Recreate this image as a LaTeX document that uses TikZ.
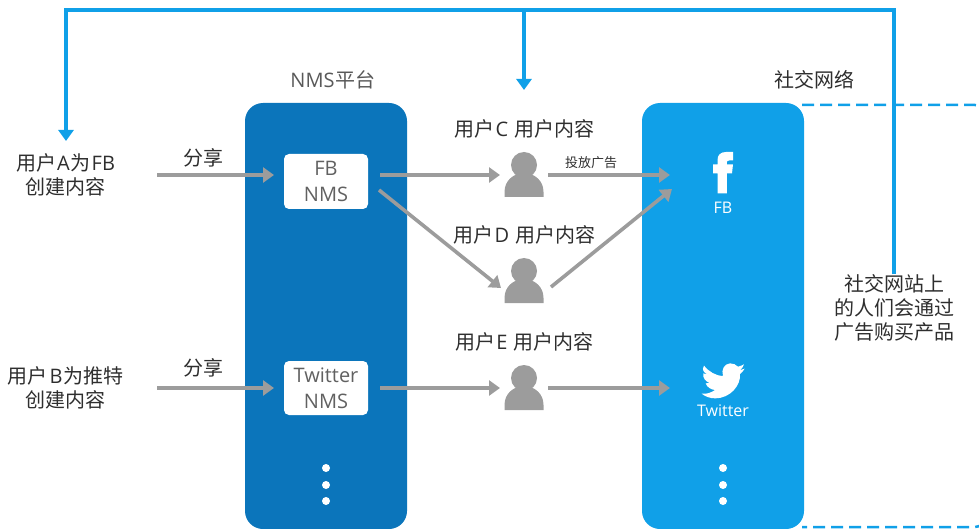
\documentclass[tikz,border=0pt]{standalone}
\usepackage{fontspec}
\setmainfont{Open Sans}
\newfontfamily\cjkfont{Noto Sans CJK SC}
\newcommand{\zh}[1]{{\cjkfont #1}}
\usetikzlibrary{arrows.meta}
\definecolor{nmsblue}{HTML}{0B75BB}
\definecolor{netblue}{HTML}{10A0E8}
\definecolor{arrowgray}{HTML}{9C9C9C}
\definecolor{textgray}{HTML}{2E2E2E}
\tikzset{
  flow/.style={draw=arrowgray,line width=3.6pt,-{Triangle[length=11pt,width=15pt]}},
  loopline/.style={draw=netblue,line width=3.8pt},
  looparrow/.style={loopline,-{Triangle[length=11pt,width=15pt]}},
  dashline/.style={draw=netblue,line width=2.5pt,dash pattern=on 12pt off 6pt,rounded corners=10pt},
  panel/.style={rounded corners=18pt,minimum width=162pt,minimum height=426pt,outer sep=0pt,inner sep=0pt},
  appbox/.style={fill=white,rounded corners=5pt,minimum width=84pt,outer sep=0pt,align=center,text=black!62,font=\fontsize{20}{26}\selectfont},
  usernode/.style={minimum width=48pt,minimum height=48pt,outer sep=0pt,inner sep=0pt},
  lognode/.style={minimum width=106pt,minimum height=46pt,outer sep=0pt,inner sep=0pt},
  label/.style={text=textgray,align=center,inner sep=0pt,font=\fontsize{20}{24}\selectfont},
  applabel/.style={text=white,inner sep=0pt,font=\fontsize{16}{18}\selectfont},
  dot/.style={circle,fill=white,minimum size=8pt,inner sep=0pt},
  usericon/.pic={
    \fill[arrowgray] (0,-10) circle (13);
    \fill[arrowgray] (-19.5,22) -- (-19.5,17) .. controls (-19.5,5) and (-10,0) .. (-6,-1) .. controls (-3,2) and (3,2) .. (6,-1) .. controls (10,0) and (19.5,5) .. (19.5,17) -- (19.5,22) -- cycle;
  }
}
\begin{document}
\begin{tikzpicture}[x=1pt,y=-1pt]
\useasboundingbox (0,0) rectangle (979,529);

\coordinate (dashtop) at (802,105);
\coordinate (dashbot) at (802,527);
\draw[dashline] (dashtop) -- (985,105) -- (985,527) -- (dashbot);

\node[panel,fill=nmsblue] (nmspanel) at (326,316) {};
\node[panel,fill=netblue] (netpanel) at (723,316) {};

\node[label,text=black!65] at (333,80) {NMS\kern1pt\zh{平台}};
\node[label] at (814,80) {\zh{社交网络}};
\node[label] (usera) at (65.5,175) {\zh{用户}\kern1pt A\kern1pt\zh{为}\kern1pt FB\\\zh{创建内容}};
\node[label] (userb) at (65.5,388) {\zh{用户}\kern2pt B\kern1pt\zh{为推特}\\\zh{创建内容}};
\node[label] (buylabel) at (894,308) {\zh{社交网站上}\\\zh{的人们会通过}\\\zh{广告购买产品}};

\node[label] at (203,158) {\zh{分享}};
\node[label] at (203,368) {\zh{分享}};
\node[label] at (524.5,129) {\zh{用户}\kern1pt C\kern1pt\ \zh{用户内容}};
\node[label] at (524.5,235) {\zh{用户}\kern1pt D\kern1pt\ \zh{用户内容}};
\node[label] at (524.5,342) {\zh{用户}\kern1pt E\kern1pt\ \zh{用户内容}};
\node[text=textgray,inner sep=0pt,font=\fontsize{13}{15}\selectfont] at (591,163) {\zh{投放广告}};

\node[appbox,minimum height=55pt] (fbnms) at (326,181.5) {\raisebox{-2pt}{FB}\\\raisebox{-2pt}{NMS}};
\node[appbox,minimum height=54pt] (twnms) at (326,388) {\raisebox{-2pt}{Twitter}\\\raisebox{-2pt}{NMS}};

\node[usernode] (userc) at (524,175) {};
\node[usernode] (userd) at (524,281) {};
\node[usernode] (usere) at (524,388) {};
\pic at (userc) {usericon};
\pic at (userd) {usericon};
\pic at (usere) {usericon};

\node[lognode] (fblogo) at (723,175) {};
\node[lognode] (twlogo) at (723,388) {};
\node[applabel] at (723,208) {FB};
\node[applabel] at (723,411) {Twitter};

\fill[white] (717.5,193.3) -- (717.5,173.3) -- (713,173.3) -- (713,164.3) -- (717.5,164.3) -- (717.5,160) .. controls (717.5,155) and (720.5,152) .. (726,152) -- (733,152) -- (733,160.5) -- (729,160.5) .. controls (727.5,160.5) and (726.8,161.2) .. (726.8,162.8) -- (726.8,164.3) -- (733,164.3) -- (732,173.3) -- (726.8,173.3) -- (726.8,193.3) -- cycle;

\begin{scope}[shift={(640,340)},x=0.3333pt,y=-0.3333pt]
\fill[white] (270,70) .. controls (280,70) and (288,74) .. (294,80) .. controls (300,79) and (306,76) .. (312,73) .. controls (310,81) and (305,87) .. (299,91) .. controls (304,90) and (309,89) .. (314,86) .. controls (310,93) and (305,98) .. (300,102) .. controls (303,135) and (272,175) .. (225,175) .. controls (210,175) and (196,170) .. (185,161) .. controls (199,163) and (214,158) .. (225,150) .. controls (212,149) and (201,141) .. (197,130) .. controls (201,131) and (205,130) .. (209,129) .. controls (197,125) and (187,113) .. (190,100) .. controls (194,103) and (198,104) .. (203,104) .. controls (190,96) and (185,90) .. (192,77) .. controls (207,95) and (226,107) .. (249,108) .. controls (243,88) and (253,72) .. (270,70) -- cycle;
\end{scope}

\node[dot] at (326,468) {};
\node[dot] at (326,485) {};
\node[dot] at (326,501) {};
\node[dot] at (723,468) {};
\node[dot] at (723,485) {};
\node[dot] at (723,501) {};

\coordinate (sharea) at (157,175);
\coordinate (shareb) at (157,388);
\draw[flow,shorten >=10pt] (sharea) -- (fbnms.west |- sharea);
\draw[flow,shorten >=10pt] (shareb) -- (twnms.west);

\coordinate (fbout) at (379,190);
\coordinate (userdin) at (501,288);
\coordinate (userdout) at (551,287);
\coordinate (fbin) at (672,189);
\draw[flow,shorten <=12pt] (fbnms.east |- userc) -- (userc.west);
\draw[flow] (fbout) -- (userdin);
\draw[flow] (userdout) -- (fbin);
\draw[flow] (userc.east) -- (fblogo.west);
\draw[flow,shorten <=12pt] (twnms.east) -- (usere.west);
\draw[flow] (usere.east) -- (twlogo.west);

\coordinate (loopa) at (66,141);
\coordinate (loopc) at (524,90);
\draw[looparrow] (buylabel.north) -- (894,10) -- (66,10) -- (loopa);
\draw[looparrow] (524,10) -- (loopc);
\end{tikzpicture}
\end{document}
